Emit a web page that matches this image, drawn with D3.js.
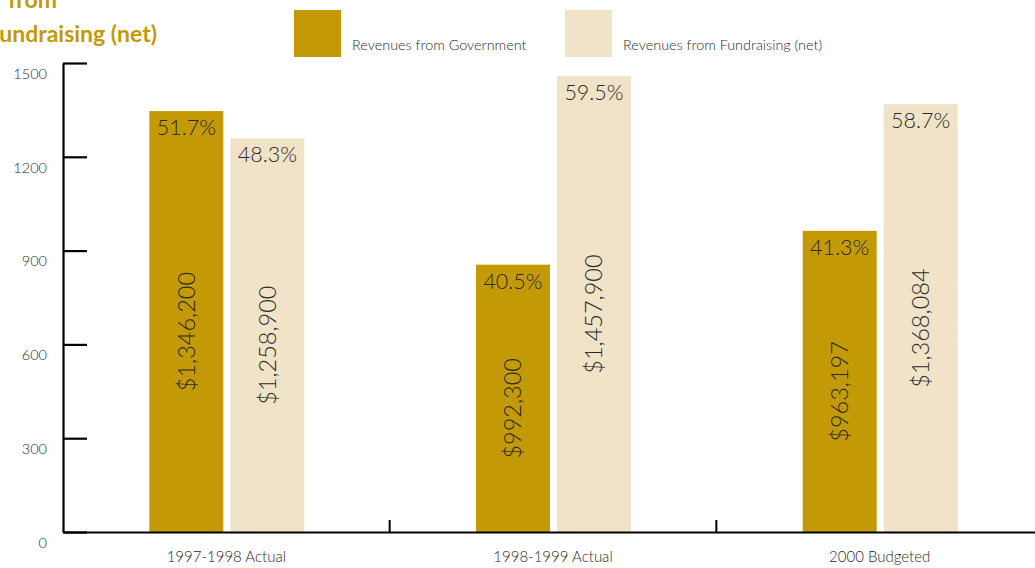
<!DOCTYPE html>
<html>
<head>
<meta charset="utf-8">
<script src="https://cdn.jsdelivr.net/npm/d3@7"></script>
<style>
  html, body { margin: 0; padding: 0; background: #fff; }
  svg { display: block; }
  text { font-family: Lato, "Open Sans", sans-serif; }
</style>
</head>
<body>
<svg id="chart" width="1035" height="568"></svg>
<script>
// ---- data (thousands of dollars) ----
const categories = ["1997-1998 Actual", "1998-1999 Actual", "2000 Budgeted"];
const seriesNames = ["Revenues from Government", "Revenues from Fundraising (net)"];
const government = [1346.2, 855, 963.2];
const fundraising = [1258.9, 1457.9, 1368.1];
const governmentLabels = ["$1,346,200", "$992,300", "$963,197"];
const fundraisingLabels = ["$1,258,900", "$1,457,900", "$1,368,084"];
const governmentPct = ["51.7%", "40.5%", "41.3%"];
const fundraisingPct = ["48.3%", "59.5%", "58.7%"];
const yTicks = [0, 300, 600, 900, 1200, 1500];

const GOLD = "#C39A06";
const CREAM = "#F0E3C7";
const TEXT = "#2a2a2a";

const svg = d3.select("#chart");

const x = d3.scaleBand().domain(categories).range([63, 1043]).paddingInner(0).paddingOuter(0);
const y = d3.scaleLinear().domain([0, 1500]).range([532, 63]);
const xs = d3.scaleBand().domain(["gov", "fund"]).range([-77, 78]).paddingInner(7 / 81).paddingOuter(0);

const rows = categories.map((c, i) => ([
  { cat: c, key: "gov", value: government[i], label: governmentLabels[i], pct: governmentPct[i], color: GOLD },
  { cat: c, key: "fund", value: fundraising[i], label: fundraisingLabels[i], pct: fundraisingPct[i], color: CREAM }
])).flat();

// ---- title (partially cut off at the top-left, as in the original) ----
const title = svg.append("g").attr("fill", GOLD).attr("font-weight", "bold").attr("font-size", 23);
title.append("text").attr("x", 8).attr("y", 8).text("from");
title.append("text").attr("x", -13).attr("y", 42).text("Fundraising (net)");

// ---- legend ----
const legend = svg.append("g");
const legendX = [294, 565];
seriesNames.forEach((name, i) => {
  legend.append("rect").attr("x", legendX[i]).attr("y", 10).attr("width", 47).attr("height", 47)
    .attr("fill", i === 0 ? GOLD : CREAM);
  legend.append("text").attr("x", legendX[i] + 58).attr("y", 50).attr("font-size", 14.4)
    .attr("font-weight", 300).attr("fill", TEXT).text(name);
});

// ---- bars ----
const bars = svg.append("g");
bars.selectAll("rect").data(rows).join("rect")
  .attr("x", d => x(d.cat) + x.bandwidth() / 2 + xs(d.key))
  .attr("y", d => y(d.value))
  .attr("width", xs.bandwidth())
  .attr("height", d => y(0) - y(d.value))
  .attr("fill", d => d.color);

// percentage labels
bars.selectAll("text.pct").data(rows).join("text")
  .attr("class", "pct")
  .attr("x", d => x(d.cat) + x.bandwidth() / 2 + xs(d.key) + xs.bandwidth() / 2)
  .attr("y", d => y(d.value) + 24)
  .attr("text-anchor", "middle")
  .attr("font-size", 21.5)
  .attr("font-weight", 300)
  .attr("fill", TEXT)
  .text(d => d.pct);

// dollar labels (rotated)
bars.selectAll("text.amt").data(rows).join("text")
  .attr("class", "amt")
  .attr("transform", d => {
    const cx = x(d.cat) + x.bandwidth() / 2 + xs(d.key) + xs.bandwidth() / 2;
    const cy = (y(d.value) + y(0)) / 2 + 10;
    return `translate(${cx},${cy}) rotate(-90)`;
  })
  .attr("text-anchor", "middle")
  .attr("dy", "0.36em")
  .attr("font-size", 23.5)
  .attr("font-weight", 300)
  .attr("fill", TEXT)
  .text(d => d.label);

// ---- y axis ----
const yAxis = svg.append("g").attr("transform", "translate(63,0)")
  .call(d3.axisLeft(y).tickValues(yTicks).tickFormat(d3.format("d")).tickSize(-24).tickSizeOuter(0).tickPadding(16));
yAxis.select(".domain").attr("stroke", "#000").attr("stroke-width", 2.2);
yAxis.selectAll(".tick line").attr("stroke", "#000").attr("stroke-width", 2.2);
yAxis.selectAll(".tick text").attr("font-size", 14.5).attr("font-weight", 300).attr("fill", TEXT)
  .attr("font-family", "Lato, sans-serif").attr("dy", "1.05em");

// ---- x axis ----
const xAxis = svg.append("g").attr("transform", `translate(0,${y(0)})`)
  .call(d3.axisBottom(x).tickSize(0).tickPadding(19).tickSizeOuter(0));
xAxis.select(".domain").attr("stroke", "#000").attr("stroke-width", 2.2);
xAxis.selectAll(".tick text").attr("font-size", 15).attr("font-weight", 300).attr("fill", TEXT)
  .attr("font-family", "Lato, sans-serif");
// category separators
xAxis.selectAll("line.sep").data(categories.slice(1)).join("line")
  .attr("class", "sep")
  .attr("x1", d => x(d)).attr("x2", d => x(d))
  .attr("y1", 0).attr("y2", -12)
  .attr("stroke", "#000").attr("stroke-width", 2);
</script>
</body>
</html>
